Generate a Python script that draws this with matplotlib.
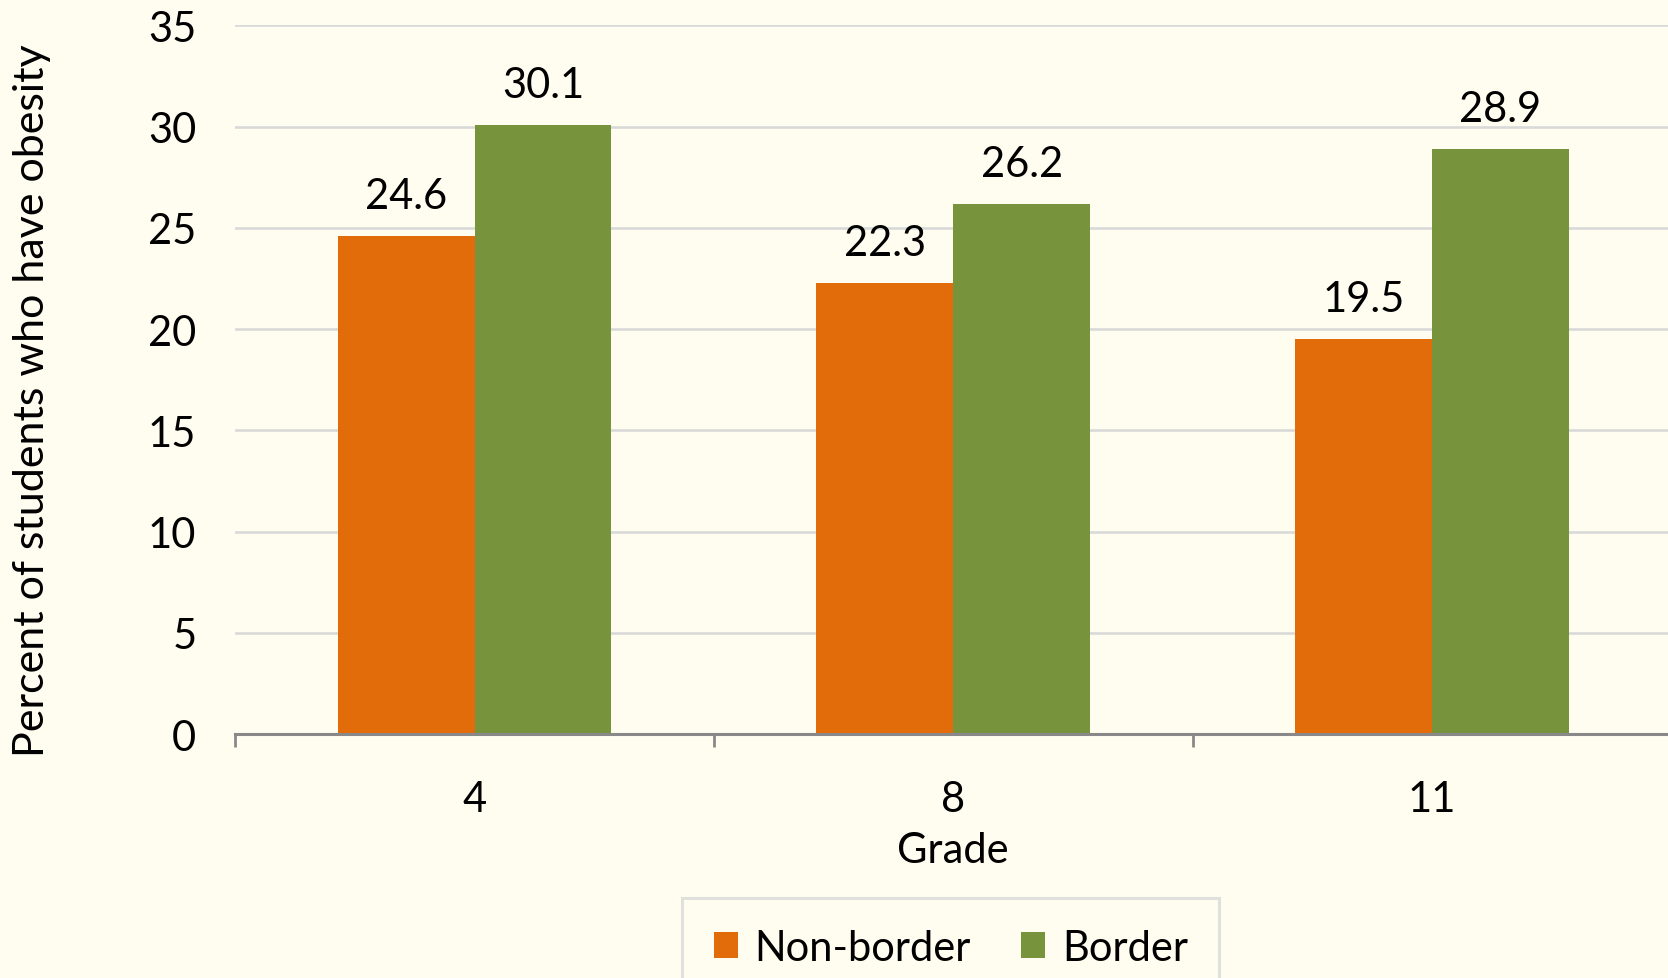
import numpy as np
import matplotlib.pyplot as plt
from matplotlib.ticker import FixedLocator

grades = ['4', '8', '11']
non_border = [24.6, 22.3, 19.5]
border = [30.1, 26.2, 28.9]

bg = '#FFFDEF'
orange = '#E36C0A'
green = '#77933C'

plt.rcParams['font.family'] = ['Lato', 'DejaVu Sans']

fig = plt.figure(figsize=(16.68, 9.79), dpi=100, facecolor=bg)
ax = fig.add_axes([0.141, 0.249, 0.861, 0.724], facecolor=bg)

x = np.arange(len(grades))
w = 0.286
b1 = ax.bar(x - w / 2, non_border, w, color=orange, label='Non-border', zorder=3)
b2 = ax.bar(x + w / 2, border, w, color=green, label='Border', zorder=3)

for bars, vals in ((b1, non_border), (b2, border)):
    for r, v in zip(bars, vals):
        ax.annotate(f'{v:.1f}', (r.get_x() + r.get_width() / 2, v),
                    xytext=(0, 15), textcoords='offset points',
                    ha='center', va='bottom', fontsize=30, color='black')

ax.set_xlim(-0.5, 2.5)
ax.set_ylim(0, 35)
ax.set_yticks(range(0, 36, 5))
ax.set_xticks(x)
ax.set_xticklabels(grades)
ax.xaxis.set_minor_locator(FixedLocator([-0.5, 0.5, 1.5, 2.5]))

ax.grid(axis='y', color='#D9D9D9', linewidth=1.9, zorder=0)
for s in ('top', 'right', 'left'):
    ax.spines[s].set_visible(False)
ax.spines['bottom'].set_color('#898989')
ax.spines['bottom'].set_linewidth(2.2)
ax.spines['bottom'].set_zorder(4)

ax.tick_params(axis='y', length=0, pad=28, labelsize=30)
ax.tick_params(axis='x', which='major', length=0, pad=33, labelsize=30)
ax.tick_params(axis='x', which='minor', length=9, width=2, color='#898989')

ax.set_ylabel('Percent of students who have obesity', fontsize=31)
ax.yaxis.set_label_coords(-0.128, 0.472)
ax.set_xlabel('Grade', fontsize=30, labelpad=9)

leg = fig.legend(loc='upper center', bbox_to_anchor=(0.570, 0.082), ncol=2,
                 fontsize=30, frameon=True, fancybox=False, borderaxespad=0,
                 handlelength=0.58, handleheight=0.58, handletextpad=0.4,
                 columnspacing=1.2, borderpad=0.75)
leg.get_frame().set_edgecolor('#D9D9D9')
leg.get_frame().set_linewidth(2.2)
leg.get_frame().set_facecolor(bg)

fig.savefig('out.png', dpi=100, facecolor=bg)
